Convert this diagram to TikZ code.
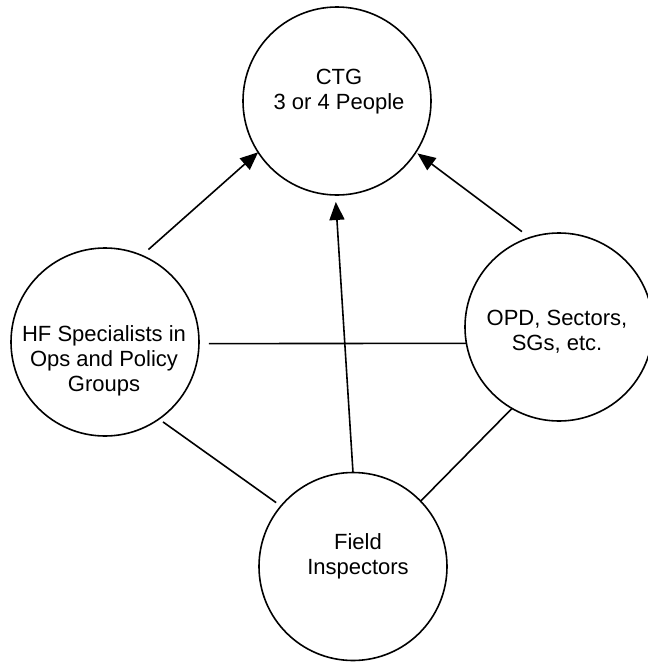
\documentclass[tikz,border=0pt]{standalone}
\usepackage{fontspec}
\setmainfont{Liberation Sans}
\usetikzlibrary{arrows.meta}
\begin{document}
\begin{tikzpicture}[x=1pt,y=-1pt,
  bubble/.style={draw, circle, line width=1.6pt, minimum size=188pt, inner sep=0pt, outer sep=0pt},
  txt/.style={align=center, font=\fontsize{22}{25}\selectfont, inner sep=0pt},
  link/.style={line width=1.6pt},
  arr/.style={link, -{Triangle[length=18pt,width=15pt]}}]
\useasboundingbox (0,0) rectangle (648,662);
\node[bubble] (ctg) at (337,101) {};
\node[bubble] (hf) at (105,342) {};
\node[bubble] (opd) at (559,327) {};
\node[bubble] (fi) at (353,566.5) {};
\node[txt] (ctgt) at (339,92) {CTG\\3 or 4 People};
\node[txt] (hft) at (104,361) {HF Specialists in\\Ops and Policy\\Groups};
\node[txt] (opdt) at (557,332) {OPD, Sectors,\\SGs, etc.};
\node[txt] (fit) at (358,556.5) {Field\\Inspectors};
\draw[arr, shorten <=9pt] (hf.67) -- (ctg.213.5);
\draw[arr, shorten <=10pt, shorten >=2pt] (opd.108) -- (ctg.327.6);
\draw[arr, shorten >=7pt] (fi.90) -- (ctg.269.4);
\draw[link, shorten <=10pt] (hf.-1) -- (opd.190);
\draw[link, shorten <=5pt, shorten >=6pt] (hf.305) -- (fi.140.8);
\draw[link] (opd.240.7) -- (fi.44.3);
\end{tikzpicture}
\end{document}
